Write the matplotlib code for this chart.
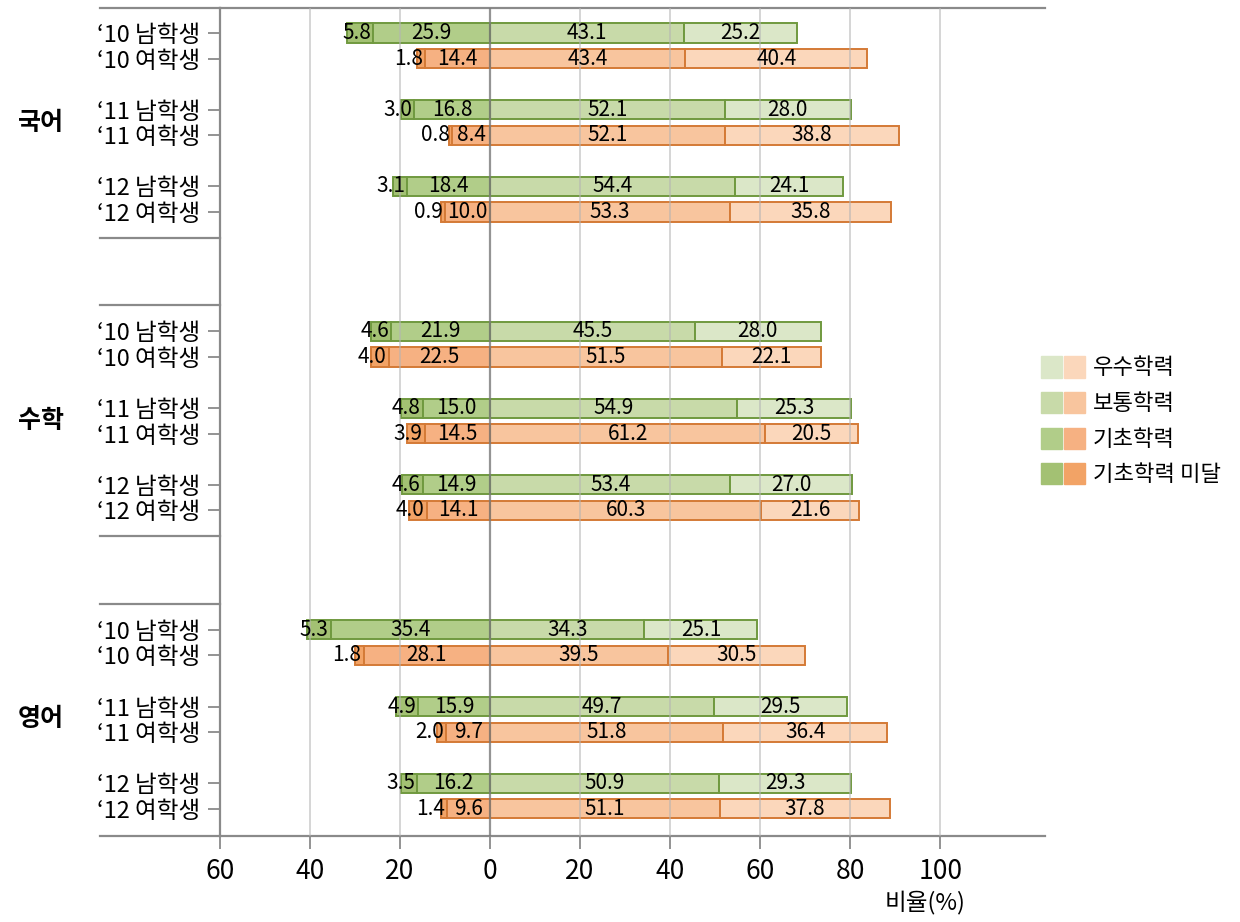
import numpy as np
import matplotlib
matplotlib.use('Agg')
import matplotlib.pyplot as plt
from matplotlib.patches import Rectangle

plt.rcParams['font.family'] = ['Noto Sans CJK KR', 'DejaVu Sans']

## 데이터
subjects = ['국어', '수학', '영어']
row_labels = ['‘10 남학생', '‘10 여학생', '‘11 남학생', '‘11 여학생', '‘12 남학생', '‘12 여학생']
levels = ['우수학력', '보통학력', '기초학력', '기초학력 미달']

# 과목별 6행씩 (국어, 수학, 영어)
below_basic = [5.8, 1.8, 3.0, 0.8, 3.1, 0.9,
               4.6, 4.0, 4.8, 3.9, 4.6, 4.0,
               5.3, 1.8, 4.9, 2.0, 3.5, 1.4]
basic = [25.9, 14.4, 16.8, 8.4, 18.4, 10.0,
         21.9, 22.5, 15.0, 14.5, 14.9, 14.1,
         35.4, 28.1, 15.9, 9.7, 16.2, 9.6]
normal = [43.1, 43.4, 52.1, 52.1, 54.4, 53.3,
          45.5, 51.5, 54.9, 61.2, 53.4, 60.3,
          34.3, 39.5, 49.7, 51.8, 50.9, 51.1]
excellent = [25.2, 40.4, 28.0, 38.8, 24.1, 35.8,
             28.0, 22.1, 25.3, 20.5, 27.0, 21.6,
             25.1, 30.5, 29.5, 36.4, 29.3, 37.8]

# 색상 (남: 초록, 여: 주황) - 우수, 보통, 기초, 미달
green = ['#dbe7c8', '#c8daa9', '#b1cd89', '#a3c173']
orange = ['#fbd7bb', '#f8c59e', '#f6b182', '#f2a366']
green_edge = '#70993f'
orange_edge = '#d47a36'

group_gap = 11.67
ypos = []
for g in range(3):
    for k in range(3):
        for s in range(2):
            ypos.append(g * group_gap + k * 3 + s)
ypos = np.array(ypos)

fig = plt.figure(figsize=(12.4, 9.22), dpi=100)
ax = fig.add_axes([220 / 1240, 1 - 836 / 922, 825 / 1240, 828 / 922])

bh = 0.75
fs = 15
for i, y in enumerate(ypos):
    cols = green if i % 2 == 0 else orange
    ec = green_edge if i % 2 == 0 else orange_edge
    segs = [(-basic[i] - below_basic[i], below_basic[i], cols[3]),
            (-basic[i], basic[i], cols[2]),
            (0, normal[i], cols[1]),
            (normal[i], excellent[i], cols[0])]
    for j, (left, w, c) in enumerate(segs):
        ax.barh(y, w, left=left, height=bh, color=c, edgecolor=ec, linewidth=1.4, zorder=2)
        if j == 0:
            # 좁은 구간: 경계 왼쪽에 오른쪽 정렬
            ax.text(-basic[i] - 0.5, y, f'{w:.1f}', ha='right', va='center', fontsize=fs, zorder=4)
        else:
            ax.text(left + w / 2, y, f'{w:.1f}', ha='center', va='center', fontsize=fs, zorder=4)

ax.set_xlim(-60, 123.3)
ax.set_ylim(ypos[-1] + 1.06, -0.98)

# 그리드
for x in [-40, -20, 20, 40, 60, 80, 100]:
    ax.axvline(x, color='#b4b4b4', linewidth=1.3, alpha=0.6, zorder=3)
ax.axvline(0, color='#7a7a7a', linewidth=1.6, alpha=0.8, zorder=3)

ax.set_xticks(range(-60, 101, 20))
ax.set_xticklabels([str(abs(t)) for t in range(-60, 101, 20)], fontsize=19)
ax.set_yticks(ypos)
ax.set_yticklabels(row_labels * 3, fontsize=17)
ax.tick_params(axis='x', length=9, width=1.3, color='#8a8a8a', pad=7)
ax.tick_params(axis='y', length=9, width=1.3, color='#8a8a8a', pad=5)

for side in ['left', 'top', 'bottom']:
    ax.spines[side].set_color('#8a8a8a')
    ax.spines[side].set_linewidth(1.6)
ax.spines['right'].set_visible(False)

# 왼쪽으로 연장되는 구분선
tr = ax.get_yaxis_transform()
xl = -120 / 825
ax.plot([xl, 0], [1, 1], transform=ax.transAxes, color='#8a8a8a', lw=1.6, clip_on=False)
ax.plot([xl, 0], [0, 0], transform=ax.transAxes, color='#8a8a8a', lw=1.6, clip_on=False)
for g in range(2):
    last = ypos[g * 6 + 5]
    first = ypos[(g + 1) * 6]
    for yy in [last + 1.0, first - 1.02]:
        ax.plot([xl, 0], [yy, yy], transform=tr, color='#8a8a8a', lw=1.6, clip_on=False)

# 과목명
for g, name in enumerate(subjects):
    yc = ypos[g * 6: g * 6 + 6].mean()
    ax.text(-202 / 825, yc, name, transform=tr, ha='left', va='center',
            fontsize=18, fontweight='bold')

# 범례
ys = [367, 403, 439, 474]
for j, lab in enumerate(levels):
    yc = 1 - ys[j] / 922
    for k, c in enumerate([green[j], orange[j]]):
        fig.patches.append(Rectangle(((1041 + k * 23) / 1240, yc - 10.5 / 922), 21 / 1240, 21 / 922,
                                     transform=fig.transFigure, color=c))
    fig.text(1093 / 1240, yc, lab, ha='left', va='center', fontsize=16)

fig.text(925 / 1240, 1 - 902 / 922, '비율(%)', ha='center', va='center', fontsize=17)

fig.savefig('out.png', dpi=100)
